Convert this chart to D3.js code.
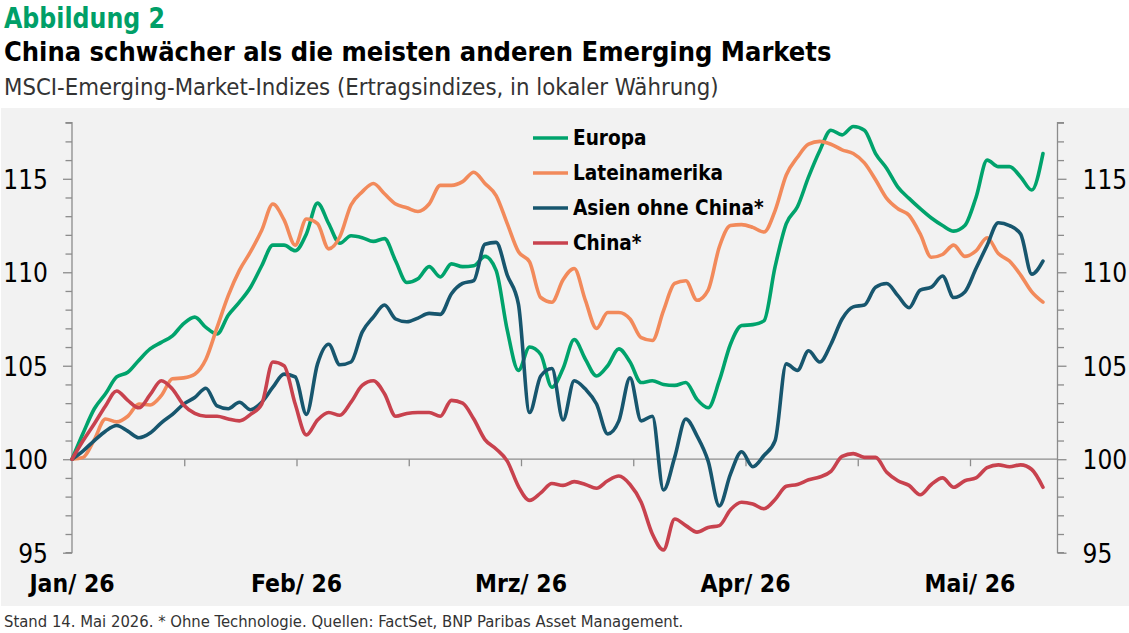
<!DOCTYPE html>
<html>
<head>
<meta charset="utf-8">
<script src="https://cdn.jsdelivr.net/npm/d3@7"></script>
<style>
	body { margin: 0; background: #fff; }
	svg { display: block; }
	.narrow { font-family: "Liberation Sans Narrow", "DejaVu Sans Condensed", "Roboto", sans-serif; }
	.axis text { font-size: 26px; fill: #000; }
	.axis path, .axis line { stroke: #8c8c8c; stroke-width: 1.3px; }
</style>
</head>
<body>
<svg id="chart"></svg>
<script>
//Values, one point per grid step (about 1/20 month).
const europa = [100, 101.4, 102.7, 103.5, 104.4, 104.65, 105.3, 105.9, 106.25, 106.6,
	107.25, 107.6, 107.05, 106.7, 107.7, 108.4, 109.2, 110.35, 111.45, 111.45,
	111.15, 112.05, 113.7, 112.6, 111.55, 111.95, 111.85, 111.65, 111.8, 110.6,
	109.45, 109.65, 110.3, 109.75, 110.45, 110.3, 110.35, 110.85, 110.1, 106.9,
	104.75, 106.0, 105.6, 103.85, 104.85, 106.4, 105.35, 104.45, 105.0, 105.9,
	105.2, 104.1, 104.2, 104.0, 103.95, 104.1, 103.2, 102.75, 104.2, 106.15,
	107.15, 107.2, 107.4, 110.3, 112.6, 113.5, 115.1, 116.5, 117.6, 117.35,
	117.8, 117.6, 116.35, 115.55, 114.55, 113.95, 113.4, 112.9, 112.5, 112.2,
	112.5, 114.0, 116.0, 115.65, 115.65, 115.1, 114.4, 116.35];
const lateinamerika = [100, 100.1, 101.05, 102.15, 102.0, 102.3, 102.95, 102.9, 103.4, 104.3,
	104.35, 104.55, 105.35, 107.05, 108.75, 110.1, 111.1, 112.25, 113.65, 112.8,
	111.45, 112.85, 112.6, 111.25, 111.9, 113.6, 114.3, 114.75, 114.2, 113.65,
	113.45, 113.25, 113.65, 114.65, 114.65, 114.85, 115.35, 114.75, 114.1, 112.6,
	111.1, 110.55, 108.65, 108.4, 109.6, 110.2, 108.5, 107.0, 107.85, 107.85,
	107.5, 106.5, 106.35, 107.95, 109.4, 109.55, 108.5, 109.05, 111.35, 112.5,
	112.55, 112.4, 112.15, 113.3, 115.2, 116.15, 116.85, 117.0, 116.85, 116.55,
	116.35, 115.85, 114.95, 113.95, 113.4, 113.05, 112.05, 110.8, 110.95, 111.45,
	110.85, 111.15, 111.85, 111.0, 110.6, 109.85, 108.95, 108.4];
const asien = [100, 100.45, 101.0, 101.5, 101.8, 101.5, 101.15, 101.4, 101.95, 102.4,
	102.95, 103.3, 103.8, 102.85, 102.7, 103.05, 102.65, 103.05, 103.85, 104.55,
	104.4, 102.4, 105.1, 106.15, 105.05, 105.2, 106.8, 107.6, 108.25, 107.5,
	107.35, 107.55, 107.8, 107.75, 108.85, 109.4, 109.55, 111.5, 111.6, 109.85,
	108.3, 102.5, 104.45, 104.85, 102.1, 104.2, 103.75, 102.95, 101.35, 102.05,
	104.35, 102.05, 102.3, 98.35, 100.1, 102.15, 101.25, 99.9, 97.5, 99.2,
	100.4, 99.6, 100.2, 101.0, 105.1, 104.75, 105.8, 105.2, 106.15, 107.5,
	108.15, 108.25, 109.2, 109.4, 108.75, 108.1, 109.05, 109.2, 109.8, 108.65,
	108.95, 110.2, 111.45, 112.65, 112.5, 112.05, 109.9, 110.6];
const china = [100, 101.0, 101.9, 102.85, 103.65, 103.15, 102.75, 103.45, 104.2, 103.75,
	102.9, 102.45, 102.3, 102.3, 102.15, 102.05, 102.4, 102.95, 105.2, 105.0,
	102.95, 101.3, 102.1, 102.5, 102.35, 103.05, 103.95, 104.2, 103.5, 102.3,
	102.45, 102.5, 102.5, 102.3, 103.15, 103.0, 102.15, 101.05, 100.55, 99.9,
	98.55, 97.8, 98.2, 98.7, 98.6, 98.8, 98.65, 98.45, 98.85, 99.1,
	98.65, 97.7, 96.0, 95.15, 96.8, 96.45, 96.1, 96.35, 96.45, 97.3,
	97.7, 97.6, 97.35, 97.85, 98.55, 98.65, 98.9, 99.05, 99.35, 100.15,
	100.3, 100.1, 100.1, 99.3, 98.85, 98.6, 98.1, 98.65, 99.0, 98.5,
	98.85, 99.0, 99.55, 99.7, 99.6, 99.7, 99.45, 98.5];
//Time of each point, in months since 1 Jan (last point is 14 May).
const lastMonth = 4.325;
const months = d3.range(europa.length).map(i => i * lastMonth / (europa.length - 1));
const monthLabels = ['Jan/ 26', 'Feb/ 26', 'Mrz/ 26', 'Apr/ 26', 'Mai/ 26'];
const yTicks = [95, 100, 105, 110, 115];

const seriesNames = ['Europa', 'Lateinamerika', 'Asien ohne China*', 'China*'];
const seriesValues = [europa, lateinamerika, asien, china];
const seriesColors = ['#00a36c', '#f28a5b', '#17566e', '#c8424e'];

const width = 1129, height = 633;
const plotLeft = 72, plotRight = 1057.5, plotTop = 122.7, plotBottom = 552.7;

const svg = d3.select('#chart')
	.attr('width', width)
	.attr('height', height);

//Grey band behind the plot.
svg.append('rect')
	.attr('x', 1)
	.attr('y', 108)
	.attr('width', width - 1)
	.attr('height', 498)
	.attr('fill', '#f2f2f2');

const x = d3.scaleLinear().domain([0, 4]).range([plotLeft, 970]);
const y = d3.scaleLinear().domain([95, 118]).range([plotBottom, plotTop]);

//Left and right value axes, a tick for every point.
const yAxisL = d3.axisLeft(y)
	.tickValues(d3.range(95, 119))
	.tickSize(6.5)
	.tickFormat(d => yTicks.includes(d) ? d : '');
const yAxisR = d3.axisRight(y)
	.tickValues(d3.range(95, 119))
	.tickSize(6.5)
	.tickFormat(d => yTicks.includes(d) ? d : '');

const gL = svg.append('g')
	.attr('class', 'axis narrow')
	.attr('transform', `translate(${plotLeft},0)`)
	.call(yAxisL);
gL.select('.domain').attr('d', `M-6.5,${plotTop}H0V${plotBottom}H-6.5`);
gL.selectAll('.tick text').attr('x', -24).attr('dy', '0.36em');
gL.selectAll('.tick line').filter(d => yTicks.includes(d)).attr('x2', -9);

const gR = svg.append('g')
	.attr('class', 'axis narrow')
	.attr('transform', `translate(${plotRight},0)`)
	.call(yAxisR);
gR.select('.domain').attr('d', `M6.5,${plotTop}H0V${plotBottom}H6.5`);
gR.selectAll('.tick text').attr('x', 25).attr('dy', '0.36em');
gR.selectAll('.tick line').filter(d => yTicks.includes(d)).attr('x2', 9);

//Time axis runs along the 100 line, ticks every half month.
const xAxis = d3.axisBottom(x)
	.tickValues(d3.range(0.5, 4.01, 0.5))
	.tickSize(7)
	.tickFormat('');
const gX = svg.append('g')
	.attr('class', 'axis')
	.attr('transform', `translate(0,${y(100)})`)
	.call(xAxis);
gX.select('.domain').attr('d', `M${plotLeft},0H${plotRight}`);

svg.append('g')
	.selectAll('text')
	.data(monthLabels)
	.join('text')
	.attr('class', 'narrow')
	.attr('x', (d, i) => x(i))
	.attr('y', 592)
	.attr('text-anchor', 'middle')
	.attr('font-size', 24.5)
	.attr('font-weight', 'bold')
	.text(d => d);

//Series lines.
const line = d3.line()
	.x((d, i) => x(months[i]))
	.y(d => y(d))
	.curve(d3.curveMonotoneX);

svg.append('g')
	.selectAll('path')
	.data(seriesValues)
	.join('path')
	.attr('d', line)
	.attr('fill', 'none')
	.attr('stroke', (d, i) => seriesColors[i])
	.attr('stroke-width', 3.6)
	.attr('stroke-linejoin', 'round')
	.attr('stroke-linecap', 'round');

//Legend.
const legend = svg.append('g')
	.selectAll('g')
	.data(seriesNames)
	.join('g')
	.attr('transform', (d, i) => `translate(533, ${138 + i * 35})`);
legend.append('line')
	.attr('x1', 0)
	.attr('x2', 35)
	.attr('stroke', (d, i) => seriesColors[i])
	.attr('stroke-width', 3.6);
legend.append('text')
	.attr('class', 'narrow')
	.attr('x', 40)
	.attr('dy', '0.36em')
	.attr('font-size', 20.6)
	.attr('font-weight', 'bold')
	.text(d => d);

//Titles and source.
svg.append('text')
	.attr('class', 'narrow')
	.attr('x', 4).attr('y', 28)
	.attr('font-size', 29)
	.attr('font-weight', 'bold')
	.attr('fill', '#009f68')
	.attr('textLength', 161)
	.attr('lengthAdjust', 'spacingAndGlyphs')
	.text('Abbildung 2');
svg.append('text')
	.attr('class', 'narrow')
	.attr('x', 4).attr('y', 61)
	.attr('font-size', 27)
	.attr('font-weight', 'bold')
	.attr('fill', '#000')
	.text('China schwächer als die meisten anderen Emerging Markets');
svg.append('text')
	.attr('class', 'narrow')
	.attr('x', 4).attr('y', 95)
	.attr('font-size', 23.7)
	.attr('fill', '#333')
	.text('MSCI-Emerging-Market-Indizes (Ertragsindizes, in lokaler Währung)');
svg.append('text')
	.attr('class', 'narrow')
	.attr('x', 4).attr('y', 627)
	.attr('font-size', 16.5)
	.attr('fill', '#333')
	.text('Stand 14. Mai 2026. * Ohne Technologie. Quellen: FactSet, BNP Paribas Asset Management.');
</script>
</body>
</html>
